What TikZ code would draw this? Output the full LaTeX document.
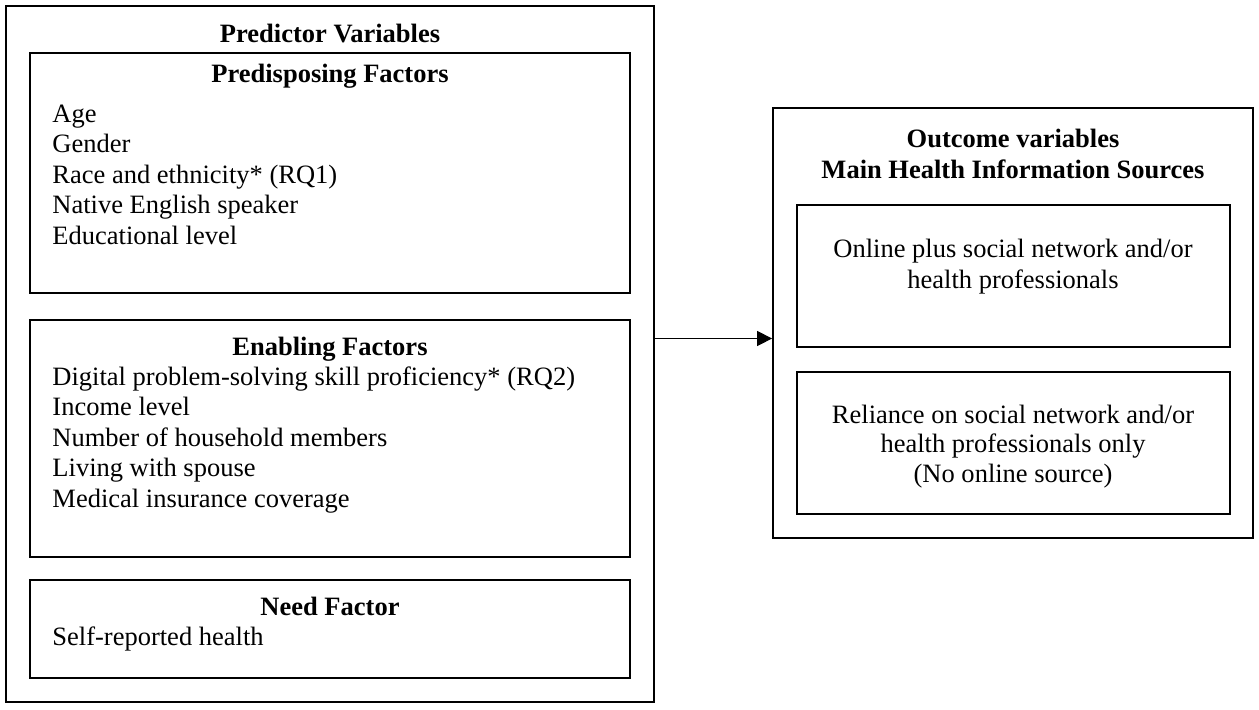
\documentclass[tikz,border=0pt]{standalone}
\usepackage{fontspec}
\setmainfont{Liberation Serif}
\usetikzlibrary{arrows.meta,fit,calc}

\begin{document}
\begin{tikzpicture}[x=0.4528pt,y=-0.4528pt,
    every node/.style={inner sep=0pt,font=\fontsize{12}{14}\selectfont},
    outerbox/.style={draw,line width=0.8pt,fit=#1},
    innerbox/.style={draw,line width=1.1pt},
    heading/.style={anchor=base,font=\fontsize{12}{14}\selectfont\bfseries},
    item/.style={anchor=base west},
    srcline/.style={anchor=base},
    link/.style={-{Triangle[length=6.8pt,width=6.8pt]},line width=0.5pt}]
\useasboundingbox (0,0) rectangle (1259,709);

\coordinate (pv-nw) at (  6,  6);
\coordinate (pv-se) at (654,702);
\coordinate (ov-nw) at (773,108);
\coordinate (ov-se) at (1253,538);
\node [outerbox={(pv-nw)(pv-se)}] (predictors) {};
\node [outerbox={(ov-nw)(ov-se)}] (outcomes)   {};

\draw[innerbox] ( 30, 53) rectangle (630,293);
\draw[innerbox] ( 30,320) rectangle (630,557);
\draw[innerbox] ( 30,580) rectangle (630,678);
\draw[innerbox] (797,205) rectangle (1230,347);
\draw[innerbox] (797,372) rectangle (1230,514);

\path
      (330, 42) node [heading] (predhead) {Predictor Variables}
      (330, 82) node [heading] (predisp)  {Predisposing Factors}
      ( 52,122) node [item]    (age)      {Age}
    ++(  0,30.5) node [item]   (gender)   {Gender}
    ++(  0,30.5) node [item]   (race)     {Race and ethnicity* (RQ1)}
    ++(  0,30.5) node [item]   (native)   {Native English speaker}
    ++(  0,30.5) node [item]   (edu)      {Educational level};
\path
      (330,355) node [heading] (enabl)    {Enabling Factors}
      ( 52,385) node [item]    (digital)  {Digital problem-solving skill proficiency* (RQ2)}
    ++(  0,30.5) node [item]   (income)   {Income level}
    ++(  0,30.5) node [item]   (house)    {Number of household members}
    ++(  0,30.5) node [item]   (spouse)   {Living with spouse}
    ++(  0,30.5) node [item]   (insur)    {Medical insurance coverage};
\path
      (330,615) node [heading] (need)     {Need Factor}
      ( 52,645) node [item]    (health)   {Self-reported health};

\path
      (1013,147) node [heading] (outhead) {Outcome variables}
    ++(0,31)     node [heading] (mainsrc) {Main Health Information Sources}
      (1013,257) node [srcline] (online1) {Online plus social network and/or}
    ++(0,31)     node [srcline] (online2) {health professionals}
      (1013,423) node [srcline] (rely1)   {Reliance on social network and/or}
    ++(0,29.5)   node [srcline] (rely2)   {health professionals only}
    ++(0,29.5)   node [srcline] (rely3)   {(No online source)};

\coordinate (mid) at ($(predictors.east)!.5!(outcomes.west)$);
\draw[link] (predictors.east |- mid) -- (outcomes.west |- mid);
\end{tikzpicture}
\end{document}
